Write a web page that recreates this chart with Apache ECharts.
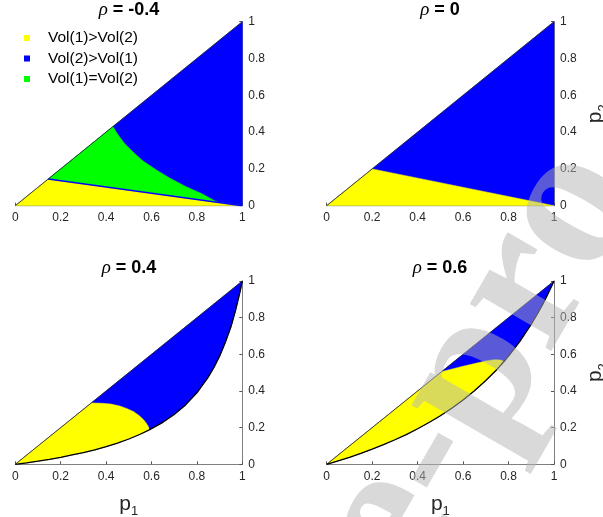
<!DOCTYPE html>
<html>
<head>
<meta charset="utf-8">
<script src="https://cdn.jsdelivr.net/npm/echarts@6/dist/echarts.min.js"></script>
<style>
  html, body { margin: 0; padding: 0; background: #fff; }
  #chart { width: 603px; height: 517px; }
</style>
</head>
<body>
<div id="chart"></div>
<script>
// Region boundaries in the (p1, p2) plane for four correlation values.
const rhoLabels = ['-0.4', '0', '0.4', '0.6'];
const regionNames = ['Vol(1)>Vol(2)', 'Vol(2)>Vol(1)', 'Vol(1)=Vol(2)'];

// rho = -0.4 : whole triangle feasible
const fullTriangle = [[0, 0], [1, 1], [1, 0]];
const rhoM04Yellow = [[0, 0], [0.145, 0.145], [1, 0]];
const rhoM04Green = [[0.145, 0.145], [0.43, 0.43], [0.45, 0.39], [0.48, 0.34], [0.52, 0.29],
  [0.56, 0.245], [0.62, 0.195], [0.68, 0.15], [0.75, 0.105], [0.82, 0.066], [0.89, 0.019]];
const rhoM04Edge = [[0.145, 0.145], [1, 0]];

// rho = 0
const rho0Yellow = [[0, 0], [0.2, 0.2], [1, 0]];

// rho = 0.4 : lower feasibility boundary and yellow/blue split
const rho04Lower = [[0, 0], [0.05, 0.008], [0.1, 0.017], [0.15, 0.027], [0.2, 0.038], [0.25, 0.051],
  [0.3, 0.064], [0.35, 0.079], [0.4, 0.096], [0.45, 0.116], [0.5, 0.138], [0.55, 0.164], [0.59, 0.188],
  [0.65, 0.229], [0.7, 0.272], [0.75, 0.324], [0.8, 0.39], [0.85, 0.476], [0.875, 0.528], [0.9, 0.59],
  [0.925, 0.664], [0.95, 0.75], [0.97, 0.838], [0.99, 0.941], [1, 1]];
const rho04Split = [[0.335, 0.335], [0.38, 0.333], [0.42, 0.329], [0.46, 0.318], [0.49, 0.305],
  [0.52, 0.288], [0.545, 0.266], [0.565, 0.243], [0.578, 0.222], [0.587, 0.203], [0.59, 0.188]];

// rho = 0.6
const rho06Lower = [[0, 0], [0.05, 0.019], [0.1, 0.038], [0.15, 0.06], [0.2, 0.083], [0.25, 0.107],
  [0.3, 0.134], [0.35, 0.162], [0.4, 0.194], [0.45, 0.228], [0.5, 0.265], [0.55, 0.306], [0.6, 0.351],
  [0.65, 0.401], [0.7, 0.457], [0.75, 0.519], [0.78, 0.561], [0.8, 0.59], [0.85, 0.671], [0.9, 0.764],
  [0.93, 0.827], [0.95, 0.872], [0.97, 0.921], [0.99, 0.973], [1, 1]];
const rho06Split = [[0.505, 0.505], [0.6, 0.535], [0.7, 0.564], [0.74, 0.571], [0.765, 0.569], [0.78, 0.561]];

const diagonal = [[0, 0], [1, 1]];

const YELLOW = '#ffff00', BLUE = '#0000ff', GREEN = '#00ff00';
const FONT = 'Liberation Sans';

// polygons assembled from the curves above
function regionBetween(lower) {
  return [[0, 0], [1, 1]].concat(lower.slice().reverse().slice(1));
}
function lowerPart(lower, split) {
  const end = split[split.length - 1][0];
  const tail = lower.filter(p => p[0] < end && p[0] > 0).reverse();
  return [[0, 0]].concat(split, tail);
}

function polygonSeries(grid, pts, color, name) {
  return {
    type: 'custom',
    name: name,
    xAxisIndex: grid, yAxisIndex: grid,
    coordinateSystem: 'cartesian2d',
    data: pts,
    itemStyle: { color: color },
    silent: true,
    z: 2,
    renderItem: function (params, api) {
      if (params.dataIndex !== 0) return null;
      return {
        type: 'polygon',
        shape: { points: pts.map(p => api.coord(p)) },
        style: { fill: color, stroke: color, lineWidth: 0.5 }
      };
    }
  };
}
function lineSeries(grid, pts, color, width) {
  return {
    type: 'line', xAxisIndex: grid, yAxisIndex: grid, data: pts,
    symbol: 'none', silent: true, z: 3, animation: false,
    lineStyle: { color: color, width: width }
  };
}

const grids = [
  { left: 15.3, top: 21.7, width: 227, height: 184, outerBoundsMode: 'none' },
  { left: 326.7, top: 21.7, width: 227.3, height: 184, outerBoundsMode: 'none' },
  { left: 15.3, top: 281, width: 227, height: 183.3, outerBoundsMode: 'none' },
  { left: 326.7, top: 281, width: 227.3, height: 183.3, outerBoundsMode: 'none' }
];

const subName = n => '{p|p}{s|' + n + '}';
const nameRich = {
  p: { fontSize: 21, fontFamily: FONT, color: '#262626' },
  s: { fontSize: 13, fontFamily: FONT, color: '#262626', verticalAlign: 'bottom', padding: [0, 0, -4, 0] }
};

const xAxes = grids.map((g, i) => ({
  type: 'value', gridIndex: i, min: 0, max: 1, interval: 0.2,
  name: i >= 2 ? subName(1) : '', nameLocation: 'middle', nameGap: 29,
  nameTextStyle: { rich: nameRich },
  axisLine: { show: true, onZero: false, lineStyle: { color: '#808080', width: 1 } },
  axisTick: { show: true, inside: true, length: 3, lineStyle: { color: '#555' } },
  axisLabel: { color: '#262626', fontSize: 12, fontFamily: FONT, margin: 6 },
  splitLine: { show: false }
}));
const yAxes = grids.map((g, i) => ({
  type: 'value', gridIndex: i, min: 0, max: 1, interval: 0.2, position: 'right',
  name: (i === 1 || i === 3) ? subName(2) : '', nameLocation: 'middle', nameGap: 31, nameRotate: 90,
  nameTextStyle: { rich: nameRich },
  axisLine: { show: true, onZero: false, lineStyle: { color: '#808080', width: 1 } },
  axisTick: { show: true, inside: true, length: 3, lineStyle: { color: '#555' } },
  axisLabel: { color: '#262626', fontSize: 12, fontFamily: FONT, margin: 6 },
  splitLine: { show: false }
}));

const series = [
  // rho = -0.4
  polygonSeries(0, fullTriangle, BLUE, regionNames[1]),
  polygonSeries(0, rhoM04Green, GREEN, regionNames[2]),
  polygonSeries(0, rhoM04Yellow, YELLOW, regionNames[0]),
  lineSeries(0, rhoM04Edge, BLUE, 1.6),
  lineSeries(0, diagonal, '#222', 0.8),
  // rho = 0
  polygonSeries(1, fullTriangle, BLUE),
  polygonSeries(1, rho0Yellow, YELLOW),
  lineSeries(1, diagonal, '#222', 0.8),
  // rho = 0.4
  polygonSeries(2, regionBetween(rho04Lower), BLUE),
  polygonSeries(2, lowerPart(rho04Lower, rho04Split), YELLOW),
  lineSeries(2, diagonal, '#222', 0.8),
  lineSeries(2, rho04Lower, '#000', 1.3),
  // rho = 0.6
  polygonSeries(3, regionBetween(rho06Lower), BLUE),
  polygonSeries(3, lowerPart(rho06Lower, rho06Split), YELLOW),
  lineSeries(3, diagonal, '#222', 0.8),
  lineSeries(3, rho06Lower, '#000', 1.3)
];

const titleCenters = [[129, 10], [440, 10], [129, 268], [440, 268]];
const titles = rhoLabels.map((r, i) => ({
  type: 'text', x: titleCenters[i][0], y: titleCenters[i][1], z: 50,
  style: {
    text: '{r|ρ}{b| = ' + r + '}',
    align: 'center', verticalAlign: 'middle',
    rich: {
      r: { fontSize: 19, fontStyle: 'italic', fontFamily: 'Liberation Serif', fill: '#000' },
      b: { fontSize: 18, fontWeight: 'bold', fontFamily: FONT, fill: '#000' }
    }
  }
}));

// faint diagonal lettering laid over the right half
const angle = 60 * Math.PI / 180;
const watermark = {
  type: 'text', x: 366, y: 566, rotation: angle, z: 200, silent: true,
  style: {
    text: 'e-pro', font: 'bold 205px "Liberation Serif"',
    fill: 'rgba(180,180,180,0.5)', align: 'left', verticalAlign: 'middle'
  }
};

const chart = echarts.init(document.getElementById('chart'), null, { renderer: 'canvas' });
chart.setOption({
  animation: false,
  backgroundColor: '#fff',
  grid: grids,
  xAxis: xAxes,
  yAxis: yAxes,
  legend: {
    orient: 'vertical', left: 24, top: 30, padding: 0, itemWidth: 6, itemHeight: 6, itemGap: 4.5,
    icon: 'rect', selectedMode: false, data: regionNames,
    textStyle: { fontFamily: FONT, fontSize: 15.5, color: '#000', padding: [0, 0, 0, 13] }
  },
  series: series,
  graphic: titles.concat([watermark])
});
</script>
</body>
</html>
